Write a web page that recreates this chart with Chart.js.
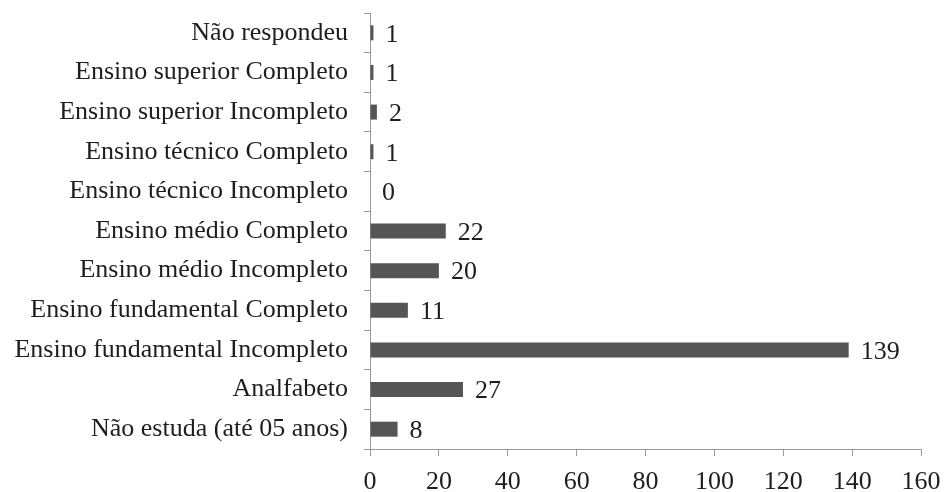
<!DOCTYPE html>
<html>
<head>
<meta charset="utf-8">
<script src="https://cdn.jsdelivr.net/npm/chart.js@4/dist/chart.umd.min.js"></script>
<style>
  html, body { margin: 0; padding: 0; background: #fff; }
  #wrap { width: 944px; height: 492px; }
</style>
</head>
<body>
<div id="wrap"><canvas id="c" width="944" height="492"></canvas></div>
<script>
// Escolaridade — número de pessoas por categoria
const categories = [
  'Não respondeu',
  'Ensino superior Completo',
  'Ensino superior Incompleto',
  'Ensino técnico Completo',
  'Ensino técnico Incompleto',
  'Ensino médio Completo',
  'Ensino médio Incompleto',
  'Ensino fundamental Completo',
  'Ensino fundamental Incompleto',
  'Analfabeto',
  'Não estuda (até 05 anos)'
];
const counts = [1, 1, 2, 1, 0, 22, 20, 11, 139, 27, 8];
const xTicks = [0, 20, 40, 60, 80, 100, 120, 140, 160];

const FONT = "'Liberation Serif', 'Times New Roman', serif";
const TEXT = '#1e1e1e';
const LABEL_SIZE = 26;

// Values printed just past the end of each bar
const valueLabels = {
  id: 'valueLabels',
  afterDatasetsDraw(chart) {
    const { ctx } = chart;
    const meta = chart.getDatasetMeta(0);
    ctx.save();
    ctx.font = LABEL_SIZE + 'px ' + FONT;
    ctx.fillStyle = TEXT;
    ctx.textAlign = 'left';
    ctx.textBaseline = 'middle';
    meta.data.forEach((bar, i) => {
      ctx.fillText(String(counts[i]), bar.x + 12, bar.y + 2);
    });
    ctx.restore();
  }
};

// Soft vertical shading on each bar
function barFill(context) {
  const el = context.element;
  const c = context.chart.ctx;
  if (!el || !el.height) return '#555';
  const top = el.y - el.height / 2;
  const g = c.createLinearGradient(0, top, 0, top + el.height);
  g.addColorStop(0, '#939393');
  g.addColorStop(0.25, '#5a5a5a');
  g.addColorStop(0.75, '#515151');
  g.addColorStop(1, '#939393');
  return g;
}

new Chart(document.getElementById('c'), {
  type: 'bar',
  data: {
    labels: categories,
    datasets: [{
      data: counts,
      backgroundColor: barFill,
      borderWidth: 0,
      barPercentage: 0.9,
      categoryPercentage: 0.42
    }]
  },
  options: {
    indexAxis: 'y',
    responsive: false,
    animation: false,
    layout: { padding: { top: 13, right: 23, bottom: 0, left: 0 } },
    plugins: { legend: { display: false }, tooltip: { enabled: false } },
    scales: {
      x: {
        min: 0, max: 160,
        afterBuildTicks(scale) { scale.ticks = xTicks.map(v => ({ value: v })); },
        afterFit(scale) {
          scale.height = 43;
          scale.paddingLeft = 0;
          scale.paddingRight = 0;
        },
        border: { display: true, color: '#999', width: 1 },
        grid: { drawOnChartArea: false, drawTicks: true, tickLength: 7, color: '#999' },
        ticks: { color: TEXT, font: { family: FONT, size: LABEL_SIZE }, padding: 11 }
      },
      y: {
        afterFit(scale) {
          scale.width = 370;
          scale.paddingTop = 0;
          scale.paddingBottom = 0;
        },
        border: { display: true, color: '#999', width: 1 },
        grid: { drawOnChartArea: false, drawTicks: true, tickLength: 6, color: '#999', offset: true },
        ticks: { color: TEXT, font: { family: FONT, size: LABEL_SIZE }, padding: 16, autoSkip: false }
      }
    }
  },
  plugins: [valueLabels]
});
</script>
</body>
</html>
